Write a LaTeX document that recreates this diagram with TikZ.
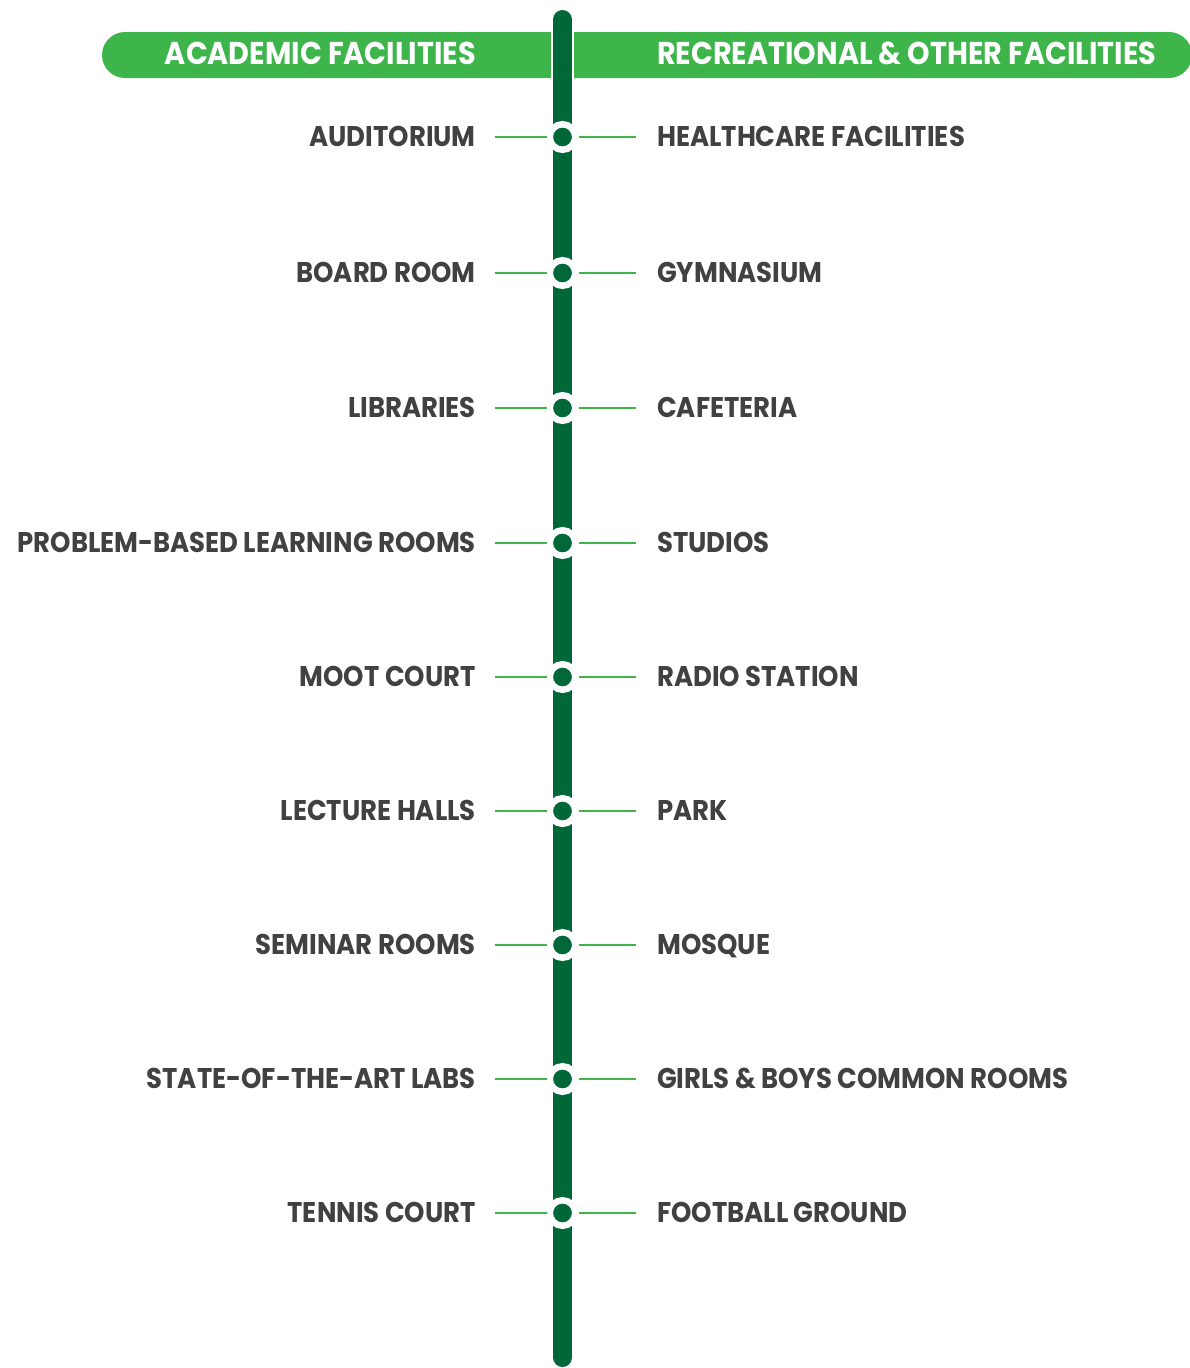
\documentclass[tikz,border=0pt]{standalone}
\usepackage{fontspec}
\setmainfont{Poppins}[FakeStretch=0.91]
\usetikzlibrary{calc}
\definecolor{darkgreen}{HTML}{006838}
\definecolor{lightgreen}{HTML}{3DB54A}
\definecolor{labelgray}{HTML}{414042}
\tikzset{
  facility/.style={font=\fontsize{28.5}{30}\selectfont\bfseries, text=labelgray, inner sep=0pt},
  header/.style={font=\fontsize{31.5}{33}\selectfont\bfseries, text=white, inner sep=0pt},
  spoke/.style={draw=lightgreen, line width=2.5pt},
  stop/.style={circle, minimum size=25.5pt, inner sep=0pt, fill=darkgreen, draw=white, line width=6.5pt}
}

\begin{document}
\begin{tikzpicture}[x=1pt,y=-1pt]
  \useasboundingbox (0,0) rectangle (1190,1368);

  % header bars
  \fill[lightgreen] (551,32) [rounded corners=23pt] -- (102,32) -- (102,78) [sharp corners] -- (551,78) -- cycle;
  \fill[lightgreen] (574,32) [rounded corners=23pt] -- (1192,32) -- (1192,78) [sharp corners] -- (574,78) -- cycle;
  \node[header, anchor=base east] (acadhead) at (476,64.5) {ACADEMIC FACILITIES};
  \node[header, anchor=base west] (rechead) at (657,64.5) {RECREATIONAL \& OTHER FACILITIES};

  % spine
  \coordinate (top) at (562.5,19.5);
  \coordinate (bottom) at (562.5,1357.5);
  \draw[white, line width=23pt, line cap=round] (top) -- (bottom);
  \draw[darkgreen, line width=19pt, line cap=round] (top) -- (bottom);

  \foreach \y/\acad/\rec [count=\i] in {137/AUDITORIUM/HEALTHCARE FACILITIES, 273/BOARD ROOM/GYMNASIUM,
      408/LIBRARIES/CAFETERIA, 543/PROBLEM-BASED LEARNING ROOMS/STUDIOS, 677/MOOT COURT/RADIO STATION,
      811/LECTURE HALLS/PARK, 945/SEMINAR ROOMS/MOSQUE, 1079/STATE-OF-THE-ART LABS/GIRLS \& BOYS COMMON ROOMS,
      1213/TENNIS COURT/FOOTBALL GROUND}{
    \node[stop] (dot\i) at (562.5,\y) {};
    \coordinate (l\i) at ($(dot\i)+(-67.5,0)$);
    \coordinate (r\i) at ($(dot\i)+(73.5,0)$);
    \draw[spoke] (l\i) -- (dot\i);
    \draw[spoke] (dot\i) -- (r\i);
    \node[facility, anchor=base east] (acad\i) at ($(l\i)+(-19,9)$) {\acad};
    \node[facility, anchor=base west] (rec\i) at ($(r\i)+(21,9)$) {\rec};
  }
\end{tikzpicture}
\end{document}
